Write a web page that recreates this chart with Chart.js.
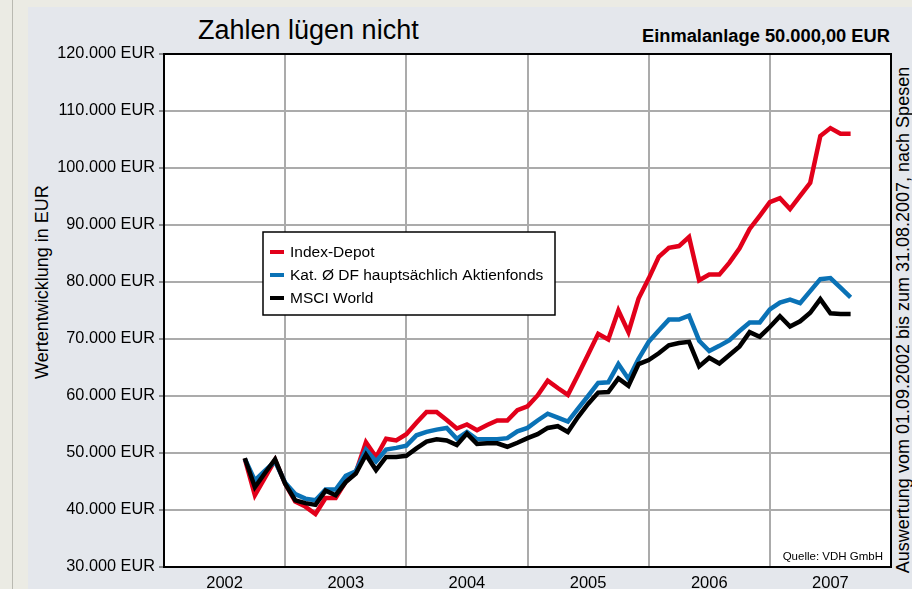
<!DOCTYPE html>
<html>
<head>
<meta charset="utf-8">
<script src="https://cdn.jsdelivr.net/npm/chart.js"></script>
<style>
html, body { margin: 0; padding: 0; }
body { width: 912px; height: 589px; background: #ebebe4; position: relative; overflow: hidden;
  font-family: "Liberation Sans", Arial, sans-serif; color: #000; }
#rule { position: absolute; left: 12px; top: 0; width: 1px; height: 589px; background: #b9b9b1; }
#panel { position: absolute; left: 28px; top: 7px; right: 0; bottom: 0; background: #e4e7ec; }
#title { position: absolute; left: 198px; top: 17px; font-size: 27px; line-height: 27px; white-space: nowrap; }
#sub { position: absolute; left: 642px; top: 27px; font-size: 18.3px; line-height: 18px; font-weight: bold; white-space: nowrap; }
#ytitle { position: absolute; left: 42px; top: 282px; transform: translate(-50%, -50%) rotate(-90deg);
  font-size: 18px; line-height: 18px; white-space: nowrap; }
#side { position: absolute; left: 903px; top: 320px; transform: translate(-50%, -50%) rotate(-90deg);
  font-size: 18px; line-height: 18px; white-space: nowrap; }
canvas { position: absolute; left: 0; top: 0; }
</style>
</head>
<body>
<div id="rule"></div>
<div id="panel"></div>
<div id="title">Zahlen lügen nicht</div>
<div id="sub">Einmalanlage 50.000,00 EUR</div>
<div id="ytitle">Wertentwicklung in EUR</div>
<div id="side">Auswertung vom 01.09.2002 bis zum 31.08.2007, nach Spesen</div>
<canvas id="chart" width="912" height="589"></canvas>
<script>
// x axis: year labels, y axis: value ticks
const years = [2002, 2003, 2004, 2005, 2006, 2007];
const yTicks = [30000, 40000, 50000, 60000, 70000, 80000, 90000, 100000, 110000, 120000];
// monthly values from 09/2002 on
const firstMonth = 2002 + 8 / 12;
const seriesNames = ['Index-Depot', 'Kat. Ø DF hauptsächlich Aktienfonds', 'MSCI World'];

const indexDepot = [
  49000, 42600, 45700, 48800, 44600, 41500, 40600, 39300, 42100, 42100, 45000, 46600,
  51900, 49300, 52500, 52200, 53300, 55300, 57200, 57200, 55800, 54300, 55000, 54000,
  54900, 55700, 55700, 57500, 58200, 60100, 62700, 61400, 60200, 63700, 67300, 70900,
  69900, 75000, 71200, 77100, 80600, 84400, 86000, 86300, 87900, 80300, 81300, 81300,
  83400, 85900, 89300, 91600, 94000, 94700, 92800, 95100, 97400, 105600, 107000, 106000, 106000
];
const katDF = [
  49000, 45200, 46900, 48500, 44800, 42800, 42000, 41700, 43600, 43600, 46000, 46800,
  50600, 48500, 50600, 50900, 51300, 53100, 53700, 54100, 54400, 52500, 53700, 52400,
  52400, 52400, 52600, 53800, 54400, 55700, 56900, 56200, 55500, 57800, 60000, 62300,
  62400, 65600, 63000, 66500, 69500, 71500, 73400, 73400, 74100, 69700, 67900, 68800,
  69800, 71400, 72900, 72900, 75200, 76400, 76900, 76300, 78400, 80500, 80700, 79000, 77300
];
const msciWorld = [
  49100, 44000, 46500, 48900, 44600, 41700, 41200, 40900, 43400, 42600, 44900, 46400,
  49700, 47000, 49300, 49300, 49500, 50800, 52000, 52400, 52200, 51400, 53400, 51600,
  51700, 51700, 51100, 51800, 52600, 53300, 54400, 54700, 53700, 56300, 58600, 60600,
  60700, 63100, 61800, 65600, 66300, 67500, 68900, 69300, 69500, 65200, 66700, 65700,
  67200, 68700, 71200, 70400, 72100, 74000, 72200, 73100, 74600, 77000, 74500, 74400, 74400
];

const colors = ['#e2001a', '#0a72b6', '#000000'];

function toPoints(values) {
  return values.map((v, i) => ({ x: firstMonth + i / 12, y: v }));
}

const fmtEur = v => (v / 1000) + '.000 EUR';

const framePlugin = {
  id: 'frame',
  beforeDraw(chart) {
    const { ctx, chartArea: a } = chart;
    ctx.save();
    ctx.fillStyle = '#ffffff';
    ctx.fillRect(a.left, a.top, a.right - a.left, a.bottom - a.top);
    ctx.restore();
  },
  afterDraw(chart) {
    const { ctx, chartArea: a } = chart;
    ctx.save();
    // frame
    ctx.strokeStyle = '#000';
    ctx.lineWidth = 2;
    ctx.strokeRect(a.left, a.top, a.right - a.left, a.bottom - a.top);

    // legend box inside the plot
    const lx = 263, ly = 232, lw = 292, lh = 83;
    ctx.fillStyle = '#fff';
    ctx.fillRect(lx, ly, lw, lh);
    ctx.lineWidth = 1.5;
    ctx.strokeRect(lx, ly, lw, lh);
    ctx.font = '15.5px "Liberation Sans", Arial, sans-serif';
    ctx.textBaseline = 'middle';
    seriesNames.forEach((name, i) => {
      const yy = ly + 20 + i * 23;
      ctx.strokeStyle = colors[i];
      ctx.lineWidth = 4;
      ctx.beginPath();
      ctx.moveTo(lx + 7, yy);
      ctx.lineTo(lx + 21, yy);
      ctx.stroke();
      ctx.fillStyle = '#000';
      ctx.fillText(name, lx + 27, yy + 1);
    });

    // source note
    ctx.font = '11.5px "Liberation Sans", Arial, sans-serif';
    ctx.textAlign = 'right';
    ctx.textBaseline = 'alphabetic';
    ctx.fillText('Quelle: VDH GmbH', a.right - 8, a.bottom - 7);
    ctx.restore();
  }
};

new Chart(document.getElementById('chart'), {
  type: 'line',
  data: {
    datasets: [
      { label: seriesNames[0], data: toPoints(indexDepot), borderColor: colors[0], order: 2 },
      { label: seriesNames[1], data: toPoints(katDF), borderColor: colors[1], order: 1 },
      { label: seriesNames[2], data: toPoints(msciWorld), borderColor: colors[2], order: 0 }
    ]
  },
  options: {
    responsive: false,
    animation: false,
    events: [],
    layout: { padding: { left: 0, top: 54, right: 21, bottom: 0 } },
    elements: {
      line: { borderWidth: 4.5, tension: 0, fill: false, borderJoinStyle: 'miter' },
      point: { radius: 0 }
    },
    plugins: {
      legend: { display: false },
      tooltip: { enabled: false }
    },
    scales: {
      x: {
        type: 'linear',
        min: 2002,
        max: 2008,
        afterBuildTicks: s => {
          const t = [];
          years.forEach(y => { t.push({ value: y }); t.push({ value: y + 0.5 }); });
          t.push({ value: 2008 });
          s.ticks = t;
        },
        afterFit: s => { s.height = 22; },
        border: { display: false },
        grid: {
          color: c => (c.tick && c.tick.value % 1 === 0) ? '#ababab' : 'rgba(0,0,0,0)',
          lineWidth: 2,
          drawTicks: false
        },
        ticks: {
          autoSkip: false,
          maxRotation: 0,
          padding: 7,
          color: '#000',
          font: { family: '"Liberation Sans", Arial, sans-serif', size: 16.5 },
          callback: v => (v % 1 === 0.5) ? String(Math.floor(v)) : ''
        }
      },
      y: {
        min: 30000,
        max: 120000,
        afterBuildTicks: s => { s.ticks = yTicks.map(v => ({ value: v })); },
        afterFit: s => { s.width = 164; },
        border: { display: false },
        grid: {
          color: '#ababab',
          lineWidth: 2,
          tickColor: '#333',
          tickLength: 5,
          tickWidth: 1
        },
        ticks: {
          padding: 4,
          color: '#000',
          font: { family: '"Liberation Sans", Arial, sans-serif', size: 16.3 },
          callback: v => fmtEur(v)
        }
      }
    }
  },
  plugins: [framePlugin]
});
</script>
</body>
</html>
